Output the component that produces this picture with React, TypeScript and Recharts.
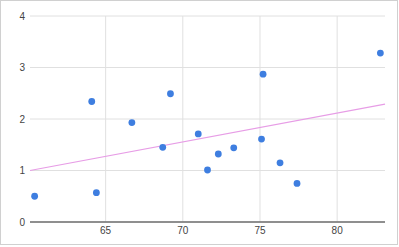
import React from "react";
import {
  ScatterChart,
  Scatter,
  XAxis,
  YAxis,
  CartesianGrid,
  ReferenceLine,
} from "recharts";

// values
const xValues = [60.4, 64.1, 64.4, 66.7, 68.7, 69.2, 71.0, 71.6, 72.3, 73.3, 75.1, 75.2, 76.3, 77.4, 82.8];
const yValues = [0.5, 2.34, 0.57, 1.93, 1.45, 2.49, 1.71, 1.01, 1.32, 1.44, 1.61, 2.87, 1.15, 0.75, 3.28];

const xTicks = [65, 70, 75, 80];
const yTicks = [0, 1, 2, 3, 4];

// linear trendline, end points
const trendX = [60.1, 83.1];
const trendY = [1.0, 2.29];

const points = xValues.map((x, i) => ({ x, y: yValues[i] }));

const tickStyle = { fontSize: 10, fill: "#444", fontFamily: "Arial, 'Liberation Sans', sans-serif" };

export default function App() {
  return (
    <div style={{ position: "fixed", left: 0, top: 0, width: 399, height: 247, background: "#fff" }}>
      <ScatterChart
        width={399}
        height={247}
        margin={{ top: 16, right: 14, bottom: 0, left: 0 }}
      >
        <CartesianGrid stroke="#e0e0e0" horizontalValues={yTicks} verticalValues={xTicks} />
        <XAxis
          type="number"
          dataKey="x"
          domain={[trendX[0], trendX[1]]}
          allowDataOverflow
          ticks={xTicks}
          height={25}
          tickLine={false}
          tickSize={0}
          tickMargin={5}
          axisLine={{ stroke: "#6f6f6f", strokeWidth: 1.5 }}
          tick={tickStyle}
        />
        <YAxis
          type="number"
          dataKey="y"
          domain={[0, 4]}
          ticks={yTicks}
          width={30}
          axisLine={false}
          tickLine={false}
          tickSize={0}
          tickMargin={5}
          tick={tickStyle}
        />
        <ReferenceLine
          segment={[
            { x: trendX[0], y: trendY[0] },
            { x: trendX[1], y: trendY[1] },
          ]}
          stroke="#e79de6"
          strokeWidth={1.2}
        />
        <Scatter
          data={points}
          fill="#3e7ee0"
          isAnimationActive={false}
          shape={(p: any) => <circle cx={p.cx} cy={p.cy} r={3.4} fill="#3e7ee0" />}
        />
      </ScatterChart>
      <div
        style={{
          position: "absolute",
          left: 0,
          top: 0,
          width: 398,
          height: 245,
          border: "1px solid #d0d0d0",
          boxSizing: "border-box",
          pointerEvents: "none",
        }}
      />
    </div>
  );
}
